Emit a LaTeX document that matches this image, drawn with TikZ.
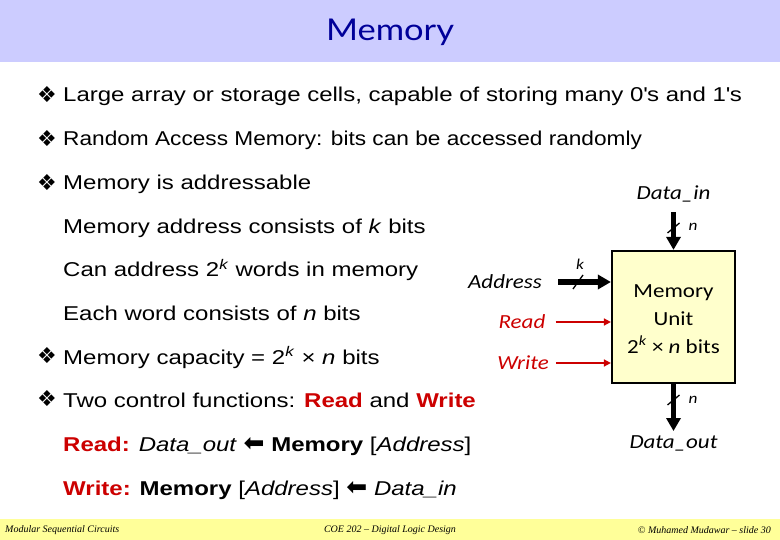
\documentclass[tikz,border=0pt]{standalone}
\usepackage{fontspec}
\setmainfont[FakeStretch=1.2]{Liberation Sans}
\newfontfamily\calfont[FakeStretch=1.15]{Carlito}
\newfontfamily\symfont{DejaVu Sans}
\newfontfamily\titlefont[FakeStretch=1.15]{Lato}
\newfontfamily\footfont{Liberation Serif}
\usetikzlibrary{arrows.meta,positioning}
\definecolor{titlebg}{RGB}{204,204,255}
\definecolor{titleblue}{RGB}{0,0,153}
\definecolor{footbg}{RGB}{255,255,153}
\definecolor{unitfill}{RGB}{255,255,204}
\definecolor{slidered}{RGB}{204,0,0}
\newcommand{\lar}{{\symfont\fontsize{25}{24}\selectfont\char"2B05}}

\begin{document}
\begin{tikzpicture}[x=1pt,y=-1pt,
  line/.style={anchor=base west,inner sep=0pt,font=\fontsize{20}{24}\selectfont},
  item/.style={line,label={[bulletmark]left:\symfont\char"2756}},
  bulletmark/.style={inner sep=0pt,font=\fontsize{22}{24}\selectfont,xshift=-6pt,yshift=2pt},
  memunit/.style={draw,line width=2.2pt,fill=unitfill,minimum width=123pt,minimum height=132pt,
    align=center,font=\calfont\fontsize{20}{28}\selectfont},
  pin/.style={inner sep=2pt,font=\calfont\itshape\fontsize{20}{24}\selectfont},
  width/.style={inner sep=0pt,font=\calfont\itshape\fontsize{15}{18}\selectfont},
  bus/.style={line width=5.5pt,-{Triangle[length=13pt,width=14pt]}},
  ctrl/.style={line width=1.6pt,slidered,-{Triangle[length=7pt,width=7pt]}},
  tick/.style={line width=1.3pt},
  foot/.style={inner sep=0pt,font=\footfont\itshape\fontsize{10}{12}\selectfont}
]
  \useasboundingbox (0,0) rectangle (780,540);
  % title and footer bars
  \fill[titlebg] (0,0) rectangle (780,62);
  \fill[footbg] (0,519) rectangle (780,540);
  \node[titleblue,font=\titlefont\fontsize{30}{36}\selectfont] (title) at (390,32) {Memory};
  \node[foot,anchor=west] (fl) at (5,530) {Modular Sequential Circuits};
  \node[foot] (fc) at (390,530) {COE 202 – Digital Logic Design};
  \node[foot,anchor=east] (fr) at (771,530) {© Muhamed Mudawar – slide 30};

  % bullet text
  \node[item] (l1) at (63,102) {Large array or storage cells, capable of storing many 0\textquotesingle s and 1\textquotesingle s};
  \node[item] (l2) at (63,145.7) {\scalebox{0.944}[1]{Random Access Memory: bits can be accessed randomly}};
  \node[item] (l3) at (63,189.4) {Memory is addressable};
  \node[line] (l4) at (63,233.1) {Memory address consists of \textit{k} bits};
  \node[line] (l5) at (63,276.8) {Can address 2\textsuperscript{\textit{k}} words in memory};
  \node[line] (l6) at (63,320.5) {Each word consists of \textit{n} bits};
  \node[item] (l7) at (63,364.2) {Memory capacity = 2\textsuperscript{\textit{k}} × \textit{n} bits};
  \node[item] (l8) at (63,407.9) {Two control functions: \textcolor{slidered}{\textbf{Read}} and \textcolor{slidered}{\textbf{Write}}};
  \node[line] (l9) at (63,451.6) {\textcolor{slidered}{\textbf{Read:}} \textit{Data\_out} \lar{} \textbf{Memory} [\textit{Address}]};
  \node[line] (l10) at (63,495.3) {\textcolor{slidered}{\textbf{Write:}} \textbf{Memory} [\textit{Address}] \lar{} \textit{Data\_in}};

  % memory unit
  \node[memunit] (mem) at (673.5,317) {\rule{0pt}{17pt}Memory\\Unit\\2\textsuperscript{\textit{k}} × \textit{n} bits};
  \node[pin] (din) at (673.5,194) {Data\_in};
  \node[pin] (dout) at (673.5,443) {Data\_out};
  \node[pin] (addr) at (505,282) {Address};
  \node[pin,slidered] (rd) at (522,322) {Read};
  \node[pin,slidered] (wr) at (523,363) {Write};

  \draw[bus,shorten <=8pt] (din) -- (mem);
  \draw[bus,shorten >=2pt] (mem) -- (dout);
  \draw[bus,shorten <=14pt] (addr.east) -- (addr.east -| mem.west);
  \draw[ctrl,shorten <=8pt] (rd.east) -- (rd.east -| mem.west);
  \draw[ctrl,shorten <=5pt] (wr.east) -- (wr.east -| mem.west);

  % width marks
  \coordinate (tin) at (673.5,228);
  \coordinate (tout) at (673.5,400);
  \coordinate (tadr) at (578,282);
  \draw[tick] (tin) +(-6,5) -- +(6,-5);
  \draw[tick] (tout) +(-6,5) -- +(6,-5);
  \draw[tick] (tadr) +(-5,7) -- +(5,-7);
  \node[width] (nin) at (693,227) {n};
  \node[width] (nout) at (693,400) {n};
  \node[width] (kadr) at (580,264) {k};
\end{tikzpicture}
\end{document}
